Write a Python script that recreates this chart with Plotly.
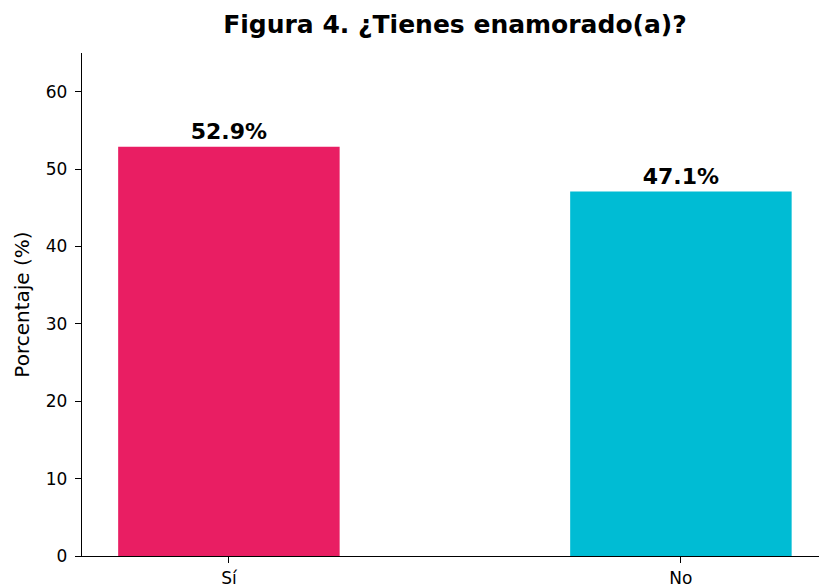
import plotly.graph_objects as go

categorias = ["Sí", "No"]
porcentajes = [52.9, 47.1]
colores = ["#E91E63", "#00BCD4"]

fig = go.Figure(go.Bar(
    x=[0, 1], y=porcentajes,
    marker=dict(color=colores, line=dict(width=0)),
    width=0.49,
    text=[f"<b>{v:.1f}%</b>" for v in porcentajes],
    textposition="outside",
    textfont=dict(family="DejaVu Sans", size=22, color="black"),
    cliponaxis=False,
))

fig.update_layout(
    width=819, height=588,
    margin=dict(l=82, r=0, t=53, b=30),
    plot_bgcolor="white", paper_bgcolor="white",
    font=dict(family="DejaVu Sans", size=17, color="black"),
    showlegend=False,
    title=dict(text="<b>Figura 4. ¿Tienes enamorado(a)?</b>",
               x=455 / 819, xanchor="center", y=1 - 24 / 588, yanchor="middle",
               font=dict(size=25)),
)
fig.update_xaxes(
    range=[-0.325, 1.3055], tickvals=[0, 1], ticktext=categorias,
    showline=True, linecolor="black", linewidth=1.3,
    ticks="outside", ticklen=6, tickcolor="black",
    showgrid=False, zeroline=False,
)
fig.update_yaxes(
    range=[0, 65], tickvals=[0, 10, 20, 30, 40, 50, 60],
    title=dict(text="Porcentaje (%)", standoff=10),
    showline=True, linecolor="black", linewidth=1.3,
    ticks="outside", ticklen=6, tickcolor="black", ticklabelstandoff=4,
    showgrid=False, zeroline=False,
)

fig.write_html("out.html", config={"displayModeBar": False},
               post_script="document.body.style.margin='0';")
